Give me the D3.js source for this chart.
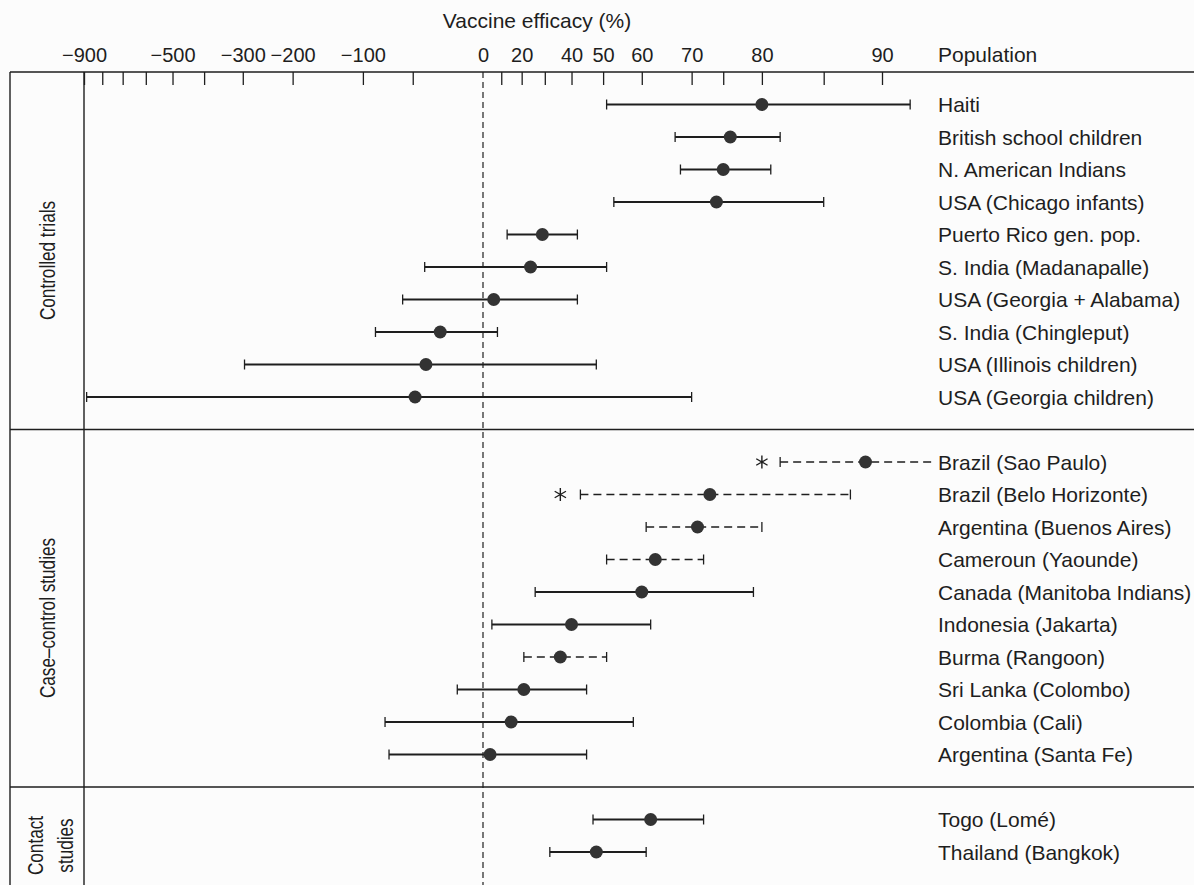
<!DOCTYPE html>
<html>
<head>
<meta charset="utf-8">
<script src="https://cdn.jsdelivr.net/npm/d3@7"></script>
<style>
  body { margin: 0; background: #fcfcfc; }
  svg { display: block; font-family: 'Liberation Sans', Arial, sans-serif; }
</style>
</head>
<body>
<script>
// BCG vaccine efficacy forest plot
var width = 1194, height = 885

// data
var groups = ['Controlled trials', 'Case\u2013control studies', 'Contact studies']
var groupSizes = [10, 10, 2]

var populations = [
  'Haiti', 'British school children', 'N. American Indians', 'USA (Chicago infants)',
  'Puerto Rico gen. pop.', 'S. India (Madanapalle)', 'USA (Georgia + Alabama)',
  'S. India (Chingleput)', 'USA (Illinois children)', 'USA (Georgia children)',
  'Brazil (Sao Paulo)', 'Brazil (Belo Horizonte)', 'Argentina (Buenos Aires)',
  'Cameroun (Yaounde)', 'Canada (Manitoba Indians)', 'Indonesia (Jakarta)',
  'Burma (Rangoon)', 'Sri Lanka (Colombo)', 'Colombia (Cali)', 'Argentina (Santa Fe)',
  'Togo (Lomé)', 'Thailand (Bangkok)'
]
var efficacy = [80, 76, 75, 74, 29, 24, 6, -28, -39, -48,
                89, 73, 71, 63, 60, 40, 36, 21, 15, 4,
                62, 48]
var lower =    [51, 67, 68, 53, 13, -40, -59, -86, -296, -885,
                82, 43, 61, 51, 26, 5, 21, -16, -76, -72,
                47, 32]
var upper =    [91.5, 82, 81, 86, 42, 51, 42, 8, 48, 70,
                92.5, 88, 80, 72, 79, 62, 51, 45, 58, 45,
                72, 61]

// dashed intervals, open upper end, asterisk estimates
var dashedStudies = ['Brazil (Sao Paulo)', 'Brazil (Belo Horizonte)', 'Argentina (Buenos Aires)',
                     'Cameroun (Yaounde)', 'Burma (Rangoon)']
var openUpperStudies = ['Brazil (Sao Paulo)']
var asteriskStudies = ['Brazil (Sao Paulo)', 'Brazil (Belo Horizonte)']
var asteriskEfficacy = [80, 36]

// axis ticks (vaccine efficacy %)
var tickLabels = [-900, -500, -300, -200, -100, 0, 20, 40, 50, 60, 70, 80, 90]
var minorTicks = [-800, -700, -600, -400, -50, 10, 30, 75, 86]

var svg = d3.select('body').append('svg')
  .attr('width', width)
  .attr('height', height)

// efficacy -> relative risk, log scale
function rr(e) { return 1 - e / 100 }
var x = d3.scaleLog().domain([10, 0.1]).range([84, 882])
function xe(e) { return x(rr(e)) }

// row slots: one empty slot between groups
var slots = []
var slot = 0, groupStart = [], groupEnd = []
groupSizes.forEach(function(n, g) {
  groupStart.push(slot)
  for (var i = 0; i < n; i++) slots.push(slot + i)
  groupEnd.push(slot + n - 1)
  slot += n + 1
})
var y = d3.scaleLinear().domain([-1, 23]).range([72, 852])

var rows = populations.map(function(p, i) {
  return {
    name: p, est: efficacy[i], lo: lower[i], hi: upper[i], slot: slots[i],
    dashed: dashedStudies.indexOf(p) >= 0,
    open: openUpperStudies.indexOf(p) >= 0
  }
})

var ink = '#1e1e1e'

// frame
var frame = svg.append('g').attr('stroke', ink).attr('stroke-width', 1.4)
frame.append('line').attr('x1', 10).attr('x2', width).attr('y1', y(-1)).attr('y2', y(-1))
frame.append('line').attr('x1', 10).attr('x2', 10).attr('y1', y(-1)).attr('y2', height)
frame.append('line').attr('x1', x(10)).attr('x2', x(10)).attr('y1', y(-1)).attr('y2', height)
groupStart.slice(1).forEach(function(s) {
  frame.append('line').attr('x1', 10).attr('x2', width).attr('y1', y(s - 1)).attr('y2', y(s - 1))
})

// zero line
svg.append('line')
  .attr('x1', xe(0)).attr('x2', xe(0))
  .attr('y1', y(-1)).attr('y2', height)
  .attr('stroke', ink)
  .attr('stroke-width', 1.2)
  .attr('stroke-dasharray', '6,4')

// top axis: labels above, ticks inside
var fmt = function(v) { return String(Math.round((1 - v) * 100)).replace('-', '\u2212') }

var axis = svg.append('g')
  .attr('transform', 'translate(0,' + y(-1) + ')')
  .call(d3.axisTop(x)
    .tickValues(tickLabels.map(rr))
    .tickFormat(fmt)
    .tickSizeInner(-13)
    .tickSizeOuter(0)
    .tickPadding(10))
axis.select('.domain').remove()
axis.selectAll('.tick line').attr('stroke', ink).attr('stroke-width', 1.3)
  .filter(function(d) { return d === 1 }).remove()
axis.selectAll('.tick text')
  .attr('font-family', null)
  .attr('font-size', 20)
  .attr('fill', ink)

var minor = svg.append('g')
  .attr('transform', 'translate(0,' + y(-1) + ')')
  .call(d3.axisTop(x)
    .tickValues(minorTicks.map(rr))
    .tickFormat('')
    .tickSizeInner(-13)
    .tickSizeOuter(0))
minor.select('.domain').remove()
minor.selectAll('.tick line').attr('stroke', ink).attr('stroke-width', 1.3)

// axis title and column header
svg.append('text')
  .attr('x', 537)
  .attr('y', 28)
  .attr('text-anchor', 'middle')
  .attr('font-size', 21)
  .attr('fill', ink)
  .text('Vaccine efficacy (%)')

svg.append('text')
  .attr('x', 938)
  .attr('y', y(-1) - 10)
  .attr('font-size', 21)
  .attr('fill', ink)
  .text('Population')

// group labels (rotated, condensed like the original type)
groups.forEach(function(g, i) {
  var cy = y((groupStart[i] + groupEnd[i]) / 2 + 0.3)
  var words = g === 'Contact studies' ? ['Contact', 'studies'] : [g]
  var t = svg.append('text')
    .attr('transform', 'translate(' + (words.length > 1 ? 50 : 47) + ',' + cy + ') rotate(-90) scale(0.78,1)')
    .attr('text-anchor', 'middle')
    .attr('font-size', 22)
    .attr('fill', ink)
  words.forEach(function(w, k) {
    t.append('tspan')
      .attr('x', 0)
      .attr('y', (k - (words.length - 1) / 2) * 30)
      .attr('dy', '0.35em')
      .text(w)
  })
})

// intervals
var row = svg.selectAll('.row')
  .data(rows)
  .enter()
  .append('g')
  .attr('class', 'row')
  .attr('transform', function(d) { return 'translate(0,' + y(d.slot) + ')' })

row.append('line')
  .attr('x1', function(d) { return xe(d.lo) })
  .attr('x2', function(d) { return xe(d.hi) })
  .attr('stroke', ink)
  .attr('stroke-width', function(d) { return d.dashed ? 1.5 : 2 })
  .attr('stroke-dasharray', function(d) { return d.dashed ? '8,5' : null })

row.append('line')
  .attr('x1', function(d) { return xe(d.lo) })
  .attr('x2', function(d) { return xe(d.lo) })
  .attr('y1', -5).attr('y2', 5)
  .attr('stroke', ink).attr('stroke-width', 1.3)

row.filter(function(d) { return !d.open })
  .append('line')
  .attr('x1', function(d) { return xe(d.hi) })
  .attr('x2', function(d) { return xe(d.hi) })
  .attr('y1', -5).attr('y2', 5)
  .attr('stroke', ink).attr('stroke-width', 1.3)

row.append('circle')
  .attr('cx', function(d) { return xe(d.est) })
  .attr('r', 6.5)
  .attr('fill', '#333')

row.append('text')
  .attr('x', 938)
  .attr('dy', '0.36em')
  .attr('font-size', 21)
  .attr('fill', ink)
  .text(function(d) { return d.name })

// asterisks
var star = d3.symbol().type(d3.symbolAsterisk || d3.symbolCross).size(120)
svg.selectAll('.asterisk')
  .data(asteriskStudies)
  .enter()
  .append('path')
  .attr('class', 'asterisk')
  .attr('d', star)
  .attr('transform', function(d, i) {
    return 'translate(' + xe(asteriskEfficacy[i]) + ',' + y(slots[populations.indexOf(d)]) + ')'
  })
  .attr('fill', 'none')
  .attr('stroke', ink)
  .attr('stroke-width', 1.4)
</script>
</body>
</html>
